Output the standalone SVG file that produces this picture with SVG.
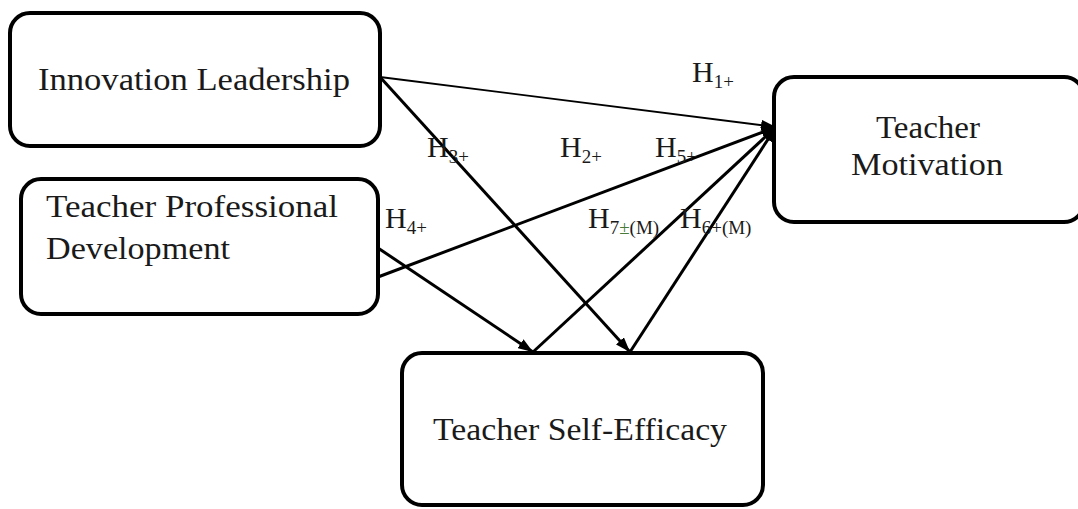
<svg xmlns="http://www.w3.org/2000/svg" width="1078" height="509" viewBox="0 0 1078 509">
<defs>
<marker id="arr" viewBox="0 0 14 10" refX="14" refY="5" markerWidth="15" markerHeight="11" markerUnits="userSpaceOnUse" orient="auto">
<path d="M0,0 L14,5 L0,10 Z" fill="#000"/>
</marker>
<style>
.box{fill:#fff;stroke:#000;stroke-width:4}
.t{font-family:"Liberation Serif","Times New Roman",serif;font-size:31px;fill:#1a1a1a}
.h{font-family:"Liberation Serif","Times New Roman",serif;font-size:30px;fill:#1a1a1a}
.s{font-size:19px}
.c{fill:none;stroke:#000;stroke-width:3;marker-end:url(#arr)}
.thin{stroke-width:1.8}
</style>
</defs>
<rect width="1078" height="509" fill="#fff"/>
<g id="connectors">
<line class="c thin" x1="380" y1="77" x2="776" y2="127"/>
<line class="c" x1="380" y1="77" x2="630" y2="352"/>
<line class="c" x1="378" y1="277" x2="776" y2="127"/>
<line class="c" x1="378" y1="248" x2="533" y2="352"/>
<line class="c" x1="533" y1="352" x2="776" y2="127"/>
<line class="c" x1="630" y1="352" x2="776" y2="127"/>
</g>
<g id="innovation-leadership">
<rect class="box" x="10" y="13" width="370" height="133" rx="20"/>
<text class="t" x="38" y="90" textLength="312" lengthAdjust="spacingAndGlyphs">Innovation Leadership</text>
</g>
<g id="teacher-professional-development">
<rect class="box" x="21" y="179" width="357" height="135" rx="20"/>
<text class="t" x="46" y="217" textLength="292" lengthAdjust="spacingAndGlyphs">Teacher Professional</text>
<text class="t" x="46" y="259" textLength="184" lengthAdjust="spacingAndGlyphs">Development</text>
</g>
<g id="teacher-motivation">
<rect class="box" x="774" y="77" width="310" height="145" rx="20"/>
<text class="t" x="876" y="138" textLength="104" lengthAdjust="spacingAndGlyphs">Teacher</text>
<text class="t" x="851" y="175" textLength="152" lengthAdjust="spacingAndGlyphs">Motivation</text>
</g>
<g id="teacher-self-efficacy">
<rect class="box" x="402" y="353" width="361" height="152" rx="20"/>
<text class="t" x="433" y="440" textLength="294" lengthAdjust="spacingAndGlyphs">Teacher Self-Efficacy</text>
</g>
<g id="labels">
<text class="h" x="692" y="82">H<tspan class="s" dy="6">1+</tspan></text>
<text class="h" x="427" y="157">H<tspan class="s" dy="6">3+</tspan></text>
<text class="h" x="560" y="157">H<tspan class="s" dy="6">2+</tspan></text>
<text class="h" x="655" y="157">H<tspan class="s" dy="6">5+</tspan></text>
<text class="h" x="385" y="228">H<tspan class="s" dy="6">4+</tspan></text>
<text class="h" x="588" y="228">H<tspan class="s" dy="6">7</tspan><tspan class="s" fill="#4a7a3a">±</tspan><tspan class="s">(M)</tspan></text>
<text class="h" x="680" y="228">H<tspan class="s" dy="6">6+(M)</tspan></text>
</g>
</svg>
